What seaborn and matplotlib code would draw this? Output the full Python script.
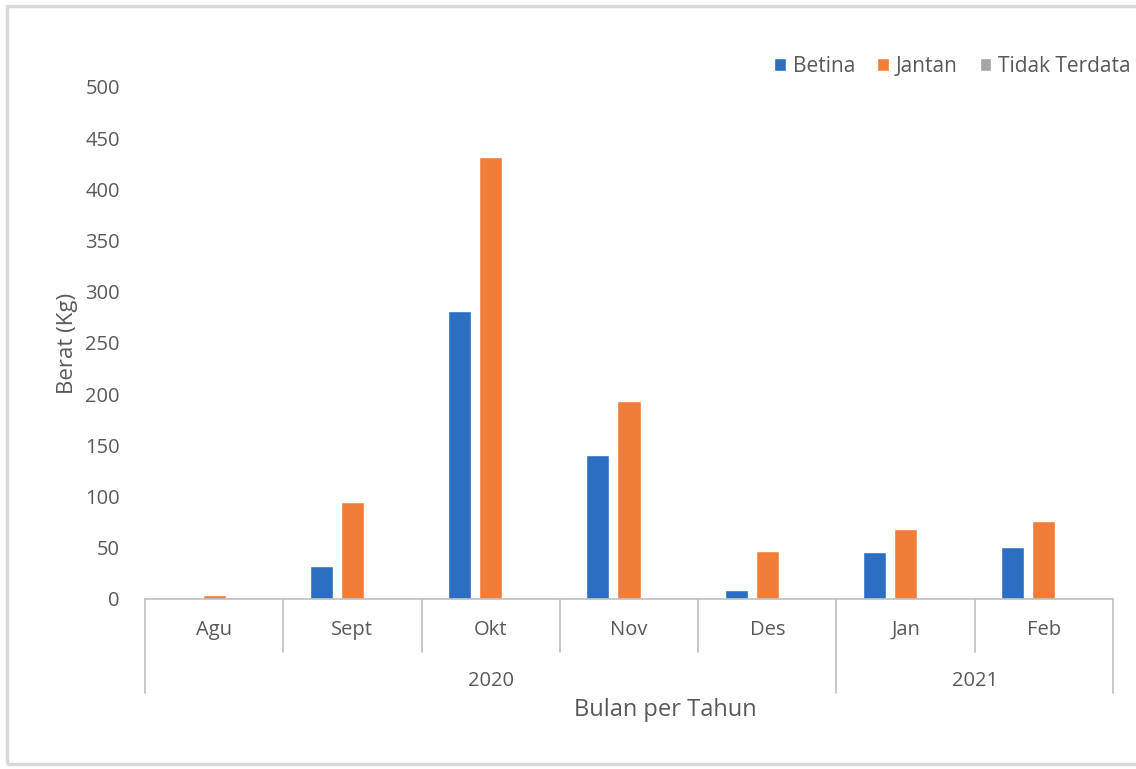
import matplotlib
matplotlib.use("Agg")
import matplotlib.pyplot as plt
from matplotlib.patches import Rectangle
from matplotlib.transforms import blended_transform_factory
import pandas as pd
import seaborn as sns

# Monthly weight (kg) by sex
months = ["Agu", "Sept", "Okt", "Nov", "Des", "Jan", "Feb"]
years = ["2020", "2021"]
months_per_year = [5, 2]
series = ["Betina", "Jantan", "Tidak Terdata"]
betina = [0, 32, 281, 141, 9, 46, 51]
jantan = [4, 95, 432, 193, 47, 68, 76]
tidak_terdata = [0, 0, 0, 0, 0, 0, 0]
colors = ["#2C6FC0", "#F07E38", "#A5A5A5"]

df = pd.DataFrame({
    "Bulan": months * 3,
    "Jenis": [s for s in series for _ in months],
    "Berat": betina + jantan + tidak_terdata,
})

sns.set_theme(style="white")
plt.rcParams["font.family"] = ["Open Sans", "DejaVu Sans"]
text_color = "#595959"
line_color = "#BFBFBF"

fig = plt.figure(figsize=(11.36, 7.69), dpi=100)
ax = fig.add_axes([0.1276, 0.2211, 0.9798 - 0.1276, 0.8869 - 0.2211])

sns.barplot(data=df, x="Bulan", y="Berat", hue="Jenis", order=months,
            hue_order=series, palette=colors, width=0.675, gap=0.26,
            saturation=1, ax=ax, legend=True)

ax.set_xlim(-0.5, len(months) - 0.5)
ax.set_ylim(0, 500)
ax.set_yticks(range(0, 501, 50))
ax.tick_params(axis="y", length=0, pad=18, labelsize=14.5, labelcolor=text_color)
ax.tick_params(axis="x", length=0, pad=15, labelsize=14.5, labelcolor=text_color)
for side in ["left", "right", "top"]:
    ax.spines[side].set_visible(False)
ax.spines["bottom"].set_color(line_color)
ax.spines["bottom"].set_linewidth(1.2)

ax.set_ylabel("Berat (Kg)", fontsize=16, color=text_color, labelpad=5)
ax.set_xlabel("")

# Two-level category axis: month dividers and year dividers
trans = blended_transform_factory(ax.transData, ax.transAxes)
month_bottom = -0.1035
year_bottom = -0.1836
year_edges = [0]
for n in months_per_year:
    year_edges.append(year_edges[-1] + n)
for i in range(len(months) + 1):
    xb = i - 0.5
    bottom = year_bottom if i in year_edges else month_bottom
    ax.plot([xb, xb], [0, bottom], transform=trans, color=line_color,
            lw=1.2, clip_on=False)
for k, yr in enumerate(years):
    xc = (year_edges[k] + year_edges[k + 1] - 1) / 2
    ax.text(xc, -0.16, yr, transform=trans, ha="center", va="center",
            fontsize=14.5, color=text_color)
ax.text(0.538, -0.217, "Bulan per Tahun", transform=ax.transAxes,
        ha="center", va="center", fontsize=17, color=text_color)

handles, labels = ax.get_legend_handles_labels()
ax.legend(handles, labels, loc="center right", bbox_to_anchor=(1.003, 0.914),
          bbox_transform=fig.transFigure, ncol=3, frameon=False,
          handlelength=0.55, handleheight=0.6, handletextpad=0.35,
          columnspacing=1.05, fontsize=15, labelcolor=text_color,
          borderaxespad=0.2, borderpad=0.2)

# Light frame around the chart area
fig.patches.append(Rectangle((0.006, 0.006), 1.2, 0.986, transform=fig.transFigure,
                             fill=False, edgecolor="#D9D9D9", lw=2.5))

fig.savefig("out.png", dpi=100, facecolor="white")
